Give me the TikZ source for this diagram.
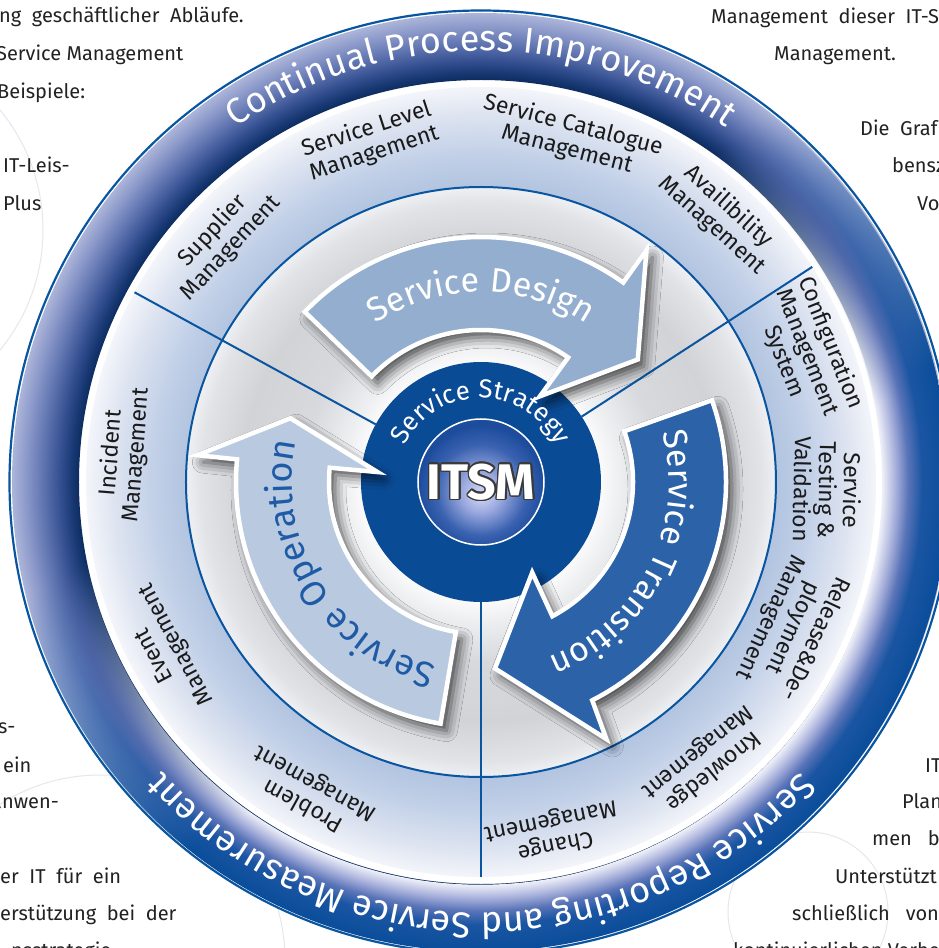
\documentclass[tikz,border=0pt]{standalone}
\usepackage{fontspec}
\setmainfont{Fira Sans}
\usetikzlibrary{decorations.text,fadings,shadows.blur}

\definecolor{ringline}{HTML}{0A55A0}
\definecolor{darkc}{HTML}{0A4B96}
\definecolor{designc}{HTML}{94AED0}
\definecolor{operc}{HTML}{B9CAE0}
\definecolor{transc}{HTML}{2B62A8}
\definecolor{opertext}{HTML}{1F5AA6}
\definecolor{labeltext}{HTML}{1A1A1A}
\definecolor{bodytext}{HTML}{222222}
\definecolor{faintc}{HTML}{E4E8EE}
\definecolor{itsmedge}{HTML}{3A3A3A}
% band layer A
\definecolor{bAa}{HTML}{0C2A5C}
\definecolor{bAb}{HTML}{153670}
\definecolor{bAc}{HTML}{344F90}
\definecolor{bAd}{HTML}{5F74B0}
\definecolor{bAe}{HTML}{8896C8}
\definecolor{bAf}{HTML}{AAB3D8}
% band layer B
\definecolor{bBa}{HTML}{EEF0F8}
\definecolor{bBb}{HTML}{AAB2DC}
\definecolor{bBc}{HTML}{5A74B8}
\definecolor{bBd}{HTML}{1A55A2}
\definecolor{bBe}{HTML}{0A4D9A}
% light ring
\definecolor{lra}{HTML}{B2C4E0}
\definecolor{lrb}{HTML}{C3D1E8}
\definecolor{lrc}{HTML}{DFE5F1}
\definecolor{lrd}{HTML}{F3F5FA}
% gray ring
\definecolor{gra}{HTML}{FAFAFB}
\definecolor{grb}{HTML}{EDEEF0}
\definecolor{grc}{HTML}{D8D9DD}
\definecolor{grd}{HTML}{D2D3D7}
\definecolor{gre}{HTML}{E2E3E7}
\definecolor{grf}{HTML}{EEF0F3}
% itsm
\definecolor{ita}{HTML}{D4DAF6}
\definecolor{itb}{HTML}{9AA8DE}
\definecolor{itc}{HTML}{3A62B0}
\definecolor{itd}{HTML}{1D4C9C}

\pgfdeclareradialshading{bandA}{\pgfpoint{0bp}{0bp}}{color(0bp)=(bAa); color(21.37bp)=(bAa); color(21.75bp)=(bAb); color(22.44bp)=(bAc); color(23.35bp)=(bAd); color(24.2bp)=(bAe); color(24.95bp)=(bAf); color(50bp)=(bAf)}
\pgfdeclareradialshading{bandB}{\pgfpoint{0bp}{0bp}}{color(0bp)=(bBa); color(21.43bp)=(bBa); color(22.12bp)=(bBb); color(22.81bp)=(bBc); color(23.56bp)=(bBd); color(25bp)=(bBe); color(50bp)=(bBe)}
\pgfdeclareradialshading{lightring}{\pgfpoint{0bp}{0bp}}{color(0bp)=(lra); color(18.67bp)=(lra); color(20.89bp)=(lrb); color(23.42bp)=(lrc); color(25bp)=(lrd); color(50bp)=(lrd)}
\pgfdeclareradialshading{grayring}{\pgfpoint{0bp}{0bp}}{color(0bp)=(gra); color(10.17bp)=(gra); color(11.86bp)=(grb); color(15.25bp)=(grc); color(20.34bp)=(grd); color(23.73bp)=(gre); color(25bp)=(grf); color(50bp)=(grf)}
\pgfdeclareradialshading{itsmshade}{\pgfpoint{0bp}{-5bp}}{color(0bp)=(ita); color(8bp)=(itb); color(18bp)=(itc); color(25bp)=(itd); color(50bp)=(itd)}
\pgfdeclareverticalshading{bandfadeshade}{100bp}{color(0bp)=(white); color(42bp)=(white); color(58bp)=(black); color(100bp)=(black)}
\pgfdeclarefading{bandfade}{\pgfuseshading{bandfadeshade}}

\newcommand\xRingFont{\fontsize{36}{36}\selectfont}
\newcommand\xArrowFont{\fontsize{34}{34}\selectfont}
\newcommand\xOperFont{\fontsize{36}{36}\selectfont}
\newcommand\xStratFont{\fontsize{26}{26}\selectfont}
\newcommand\xLabelFont{\fontsize{23}{25}\selectfont}
\newcommand\xBodyFont{\fontsize{20}{20}\selectfont}
\newcommand\xItsmFont{\fontsize{50}{50}\selectfont\bfseries}

\begin{document}
\begin{tikzpicture}[x=1pt,y=1pt,
  arrowbase/.style={draw=white, line width=4.5, line join=miter,
    blur shadow={shadow xshift=6pt, shadow yshift=-7pt, shadow blur radius=11pt, shadow opacity=70}},
  sublabel/.style={font=\xLabelFont, text=labeltext, align=center, inner sep=0},
  bgtext/.style={font=\xBodyFont, text=bodytext, anchor=base west, inner sep=0},
  divider/.style={ringline, line width=2},
  faintline/.style={faintc, line width=1}]
\useasboundingbox (-481,-466) rectangle (458,482);
\clip (-481,-466) rectangle (458,482);
\fill[white] (-481,-466) rectangle (458,482);

% faint background circles
\draw[faintline] (-627,252) circle[radius=189];
\draw[faintline] (-381,-478) circle[radius=185];
\draw[faintline] (327,-430) circle[radius=80];

% background text fragments
\node[bgtext] (t1) at (-482,459) {ng\ \ geschäftlicher\ \ Abläufe.};
\node[bgtext] (t2) at (-485,421) {Service Management};
\node[bgtext] (t3) at (-484,383) {Beispiele:};
\node[bgtext] (t4) at (-478,309) {IT-Leis-};
\node[bgtext] (t5) at (-478,271) {Plus};
\node[bgtext] (t6) at (230,458) {Management\ \ dieser\ \ IT-S};
\node[bgtext] (t7) at (293,421) {Management.};
\node[bgtext] (t8) at (379,346) {Die\ \ Graf};
\node[bgtext] (t9) at (411,309) {bensz};
\node[bgtext] (t10) at (436,271) {Vo};
\node[bgtext] (t11) at (-483,-251) {s-};
\node[bgtext] (t12) at (-478,-290) {ein};
\node[bgtext] (t13) at (-490,-326) {anwen-};
\node[bgtext] (t14) at (-481,-401) {er\ \ IT\ \ für\ \ ein};
\node[bgtext] (t15) at (-481,-438) {erstützung\ \ bei\ \ der};
\node[bgtext] (t16) at (-470,-475) {nsstrategie};
\node[bgtext] (t17) at (444,-290) {IT};
\node[bgtext] (t18) at (421,-326) {Plan};
\node[bgtext] (t19) at (391,-363) {men\ \ \ be};
\node[bgtext] (t20) at (354,-401) {Unterstützt};
\node[bgtext] (t21) at (311,-438) {schließlich\ \ \ von};
\node[bgtext] (t22) at (252,-475) {kontinuierlichen Verbe};

% outer ring
\draw[ringline, line width=2.2] (0,0) circle[radius=471.5];
\shade[shading=bandA, even odd rule] (0,0) circle[radius=469] (0,0) circle[radius=402];
\shade[shading=bandB, path fading=bandfade, fading angle=33, even odd rule] (0,0) circle[radius=469] (0,0) circle[radius=402];

% light ring and gray ring
\shade[shading=lightring, even odd rule] (0,0) circle[radius=395] (0,0) circle[radius=295];
\shade[shading=grayring] (0,0) circle[radius=295];
\draw[ringline, line width=2] (0,0) circle[radius=295];
\foreach \a in {151.3,33,270} \draw[divider] (\a:120) -- (\a:395);

% dark centre
\fill[darkc] (0,0) circle[radius=120];

% arrows
\path[arrowbase, fill=designc] (136:245) arc[start angle=136, end angle=54.5, radius=245]
  -- (54.5:285) -- (38:199) -- (55.5:104) -- (55:152) arc[start angle=55, end angle=136, radius=152] -- cycle;
\path[arrowbase, fill=transc] (19.5:245) arc[start angle=19.5, end angle=-63, radius=245]
  -- (-64:286) -- (-85.7:187) -- (-60.5:104) -- (-62:152) arc[start angle=-62, end angle=19.5, radius=152] -- cycle;
\path[arrowbase, fill=operc] (260.5:245) arc[start angle=260.5, end angle=174.7, radius=245]
  -- (174.6:285) -- (161.5:201) -- (174.5:104) -- (174.6:152) arc[start angle=174.6, end angle=260.5, radius=152] -- cycle;

% inner ITSM circle
\shade[shading=itsmshade] (0,0) circle[radius=63];
\draw[white, line width=1.5] (0,0) circle[radius=63];

% ring texts
\path[decorate, decoration={text along path, text align=center, text color=white,
  text={|\xRingFont|Continual Process Improvement}}] (160:431) arc[start angle=160, end angle=20, radius=431];
\path[decorate, decoration={text along path, text align=center, text color=white,
  text={|\xRingFont|Service Reporting and Service Measurement}}] (-10:431) arc[start angle=-10, end angle=-170, radius=431];

% arrow texts
\path[decorate, decoration={text along path, text align=center, text color=white,
  text={|\xArrowFont|Service Design}}] (150:190) arc[start angle=150, end angle=30, radius=190];
\path[decorate, decoration={text along path, text align=center, text color=white,
  text={|\xArrowFont|Service Transition}}] (33:188) arc[start angle=33, end angle=-87, radius=188];
\path[decorate, decoration={text along path, text align=center, text color=opertext,
  text={|\xOperFont|Service Operation}}] (272:189) arc[start angle=272, end angle=152, radius=189];
\path[decorate, decoration={text along path, text align=center, text color=white,
  text={|\xStratFont|Service Strategy}}] (180:84) arc[start angle=180, end angle=0, radius=84];

% ITSM
\foreach \a in {0,22.5,...,337.5}
  \node[font=\xItsmFont, text=itsmedge, inner sep=0] at (\a:1.6) {ITSM};
\node[font=\xItsmFont, text=white, inner sep=0] (itsm) at (0,0) {ITSM};

% sub-process labels
\node[sublabel, rotate=46.9] (l1) at (136.9:355) {Supplier\\Management};
\node[sublabel, rotate=18] (l2) at (108:358) {Service Level\\Management};
\node[sublabel, rotate=-14.5] (l3) at (75.5:356) {Service Catalogue\\Management};
\node[sublabel, rotate=-42] (l4) at (48:358) {Availibility\\Management};
\node[sublabel, rotate=-68.3] (l5) at (21.7:351) {Configuration\\Management\\System};
\node[sublabel, rotate=-91.3] (l6) at (-1.3:347) {Service\\Testing \&\\Validation};
\node[sublabel, rotate=-115.1] (l7) at (-25.1:344) {Release\&De-\\ployment\\Management};
\node[sublabel, rotate=-141.2] (l8) at (-51.2:358) {Knowledge\\Management};
\node[sublabel, rotate=-168.4] (l9) at (-78.4:358) {Change\\Management};
\node[sublabel, rotate=151.2] (l10) at (241.2:356) {Problem\\Management};
\node[sublabel, rotate=118] (l11) at (208:357) {Event\\Management};
\node[sublabel, rotate=85.5] (l12) at (175.5:358) {Incident\\Management};
\end{tikzpicture}
\end{document}
